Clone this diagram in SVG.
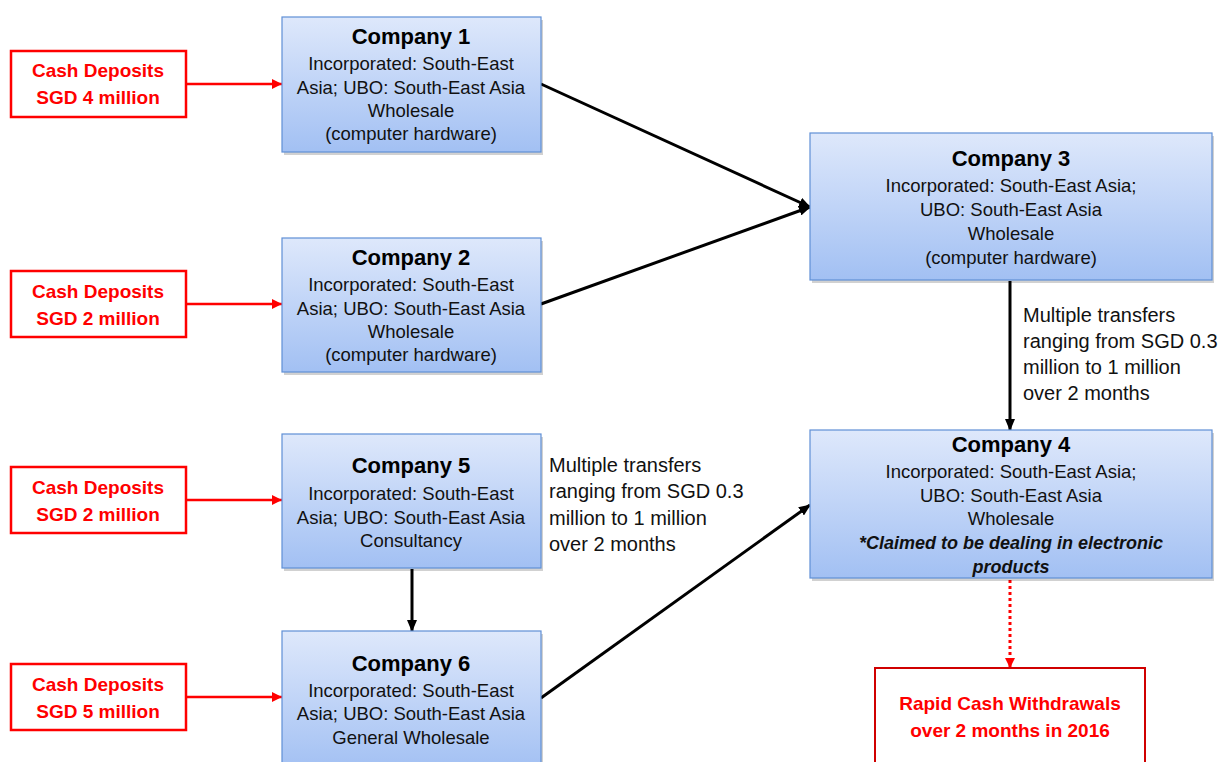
<svg xmlns="http://www.w3.org/2000/svg" width="1221" height="762" viewBox="0 0 1221 762">
<defs>
<linearGradient id="g" x1="0" y1="0" x2="0" y2="1">
<stop offset="0" stop-color="#dee8fb"/>
<stop offset="1" stop-color="#a2c0f3"/>
</linearGradient>
<marker id="ab" viewBox="0 0 12 10" refX="11" refY="5" markerWidth="12" markerHeight="10" markerUnits="userSpaceOnUse" orient="auto">
<path d="M0,0 L12,5 L0,10 z" fill="#000"/>
</marker>
<marker id="ar" viewBox="0 0 10 10" refX="10" refY="5" markerWidth="10" markerHeight="10" markerUnits="userSpaceOnUse" orient="auto">
<path d="M0,0 L10,5 L0,10 z" fill="#ff0000"/>
</marker>
</defs>
<style>
.co{fill:url(#g);stroke:#5f8fd6;stroke-width:1.2}
.sh{fill:#000;opacity:0.18}
.cash{fill:#fff;stroke:#ff0000;stroke-width:2.5}
.t{font-family:"Liberation Sans",Arial,sans-serif;font-weight:bold;font-size:22px;fill:#000;text-anchor:middle}
.b{font-family:"Liberation Sans",Arial,sans-serif;font-size:18.5px;fill:#111;text-anchor:middle}
.bi{font-family:"Liberation Sans",Arial,sans-serif;font-size:18px;font-weight:bold;font-style:italic;fill:#111;text-anchor:middle}
.r{font-family:"Liberation Sans",Arial,sans-serif;font-weight:bold;font-size:19px;fill:#ff0000;text-anchor:middle}
.l{font-family:"Liberation Sans",Arial,sans-serif;font-size:20px;fill:#111}
.k{stroke:#000;stroke-width:3;fill:none}
.kr{stroke:#ff0000;stroke-width:2.5;fill:none}
</style>

<g id="connectors">
<line class="kr" x1="186" y1="84" x2="282" y2="84" marker-end="url(#ar)"/>
<line class="kr" x1="186" y1="304" x2="282" y2="304" marker-end="url(#ar)"/>
<line class="kr" x1="186" y1="500" x2="282" y2="500" marker-end="url(#ar)"/>
<line class="kr" x1="186" y1="697" x2="282" y2="697" marker-end="url(#ar)"/>
<line class="k" x1="541" y1="84" x2="810" y2="207" marker-end="url(#ab)"/>
<line class="k" x1="541" y1="304" x2="810" y2="207" marker-end="url(#ab)"/>
<line class="k" x1="1010" y1="281" x2="1010" y2="430" marker-end="url(#ab)"/>
<line class="k" x1="412" y1="569" x2="412" y2="631" marker-end="url(#ab)"/>
<line class="k" x1="541" y1="698" x2="810" y2="505" marker-end="url(#ab)"/>
<line x1="1010" y1="580" x2="1010" y2="668" stroke="#ff0000" stroke-width="3" stroke-dasharray="3,3" marker-end="url(#ar)"/>
<text class="l" x="1023" y="322">Multiple transfers</text>
<text class="l" x="1023" y="348">ranging from SGD 0.3</text>
<text class="l" x="1023" y="374">million to 1 million</text>
<text class="l" x="1023" y="400">over 2 months</text>
<text class="l" x="549" y="472">Multiple transfers</text>
<text class="l" x="549" y="498">ranging from SGD 0.3</text>
<text class="l" x="549" y="525">million to 1 million</text>
<text class="l" x="549" y="551">over 2 months</text>
</g>

<g id="cash1">
<rect class="cash" x="11" y="51" width="175" height="66"/>
<text class="r" x="98" y="77">Cash Deposits</text>
<text class="r" x="98" y="104">SGD 4 million</text>
</g>
<g id="cash2">
<rect class="cash" x="11" y="271" width="175" height="66"/>
<text class="r" x="98" y="298">Cash Deposits</text>
<text class="r" x="98" y="325">SGD 2 million</text>
</g>
<g id="cash3">
<rect class="cash" x="11" y="467" width="175" height="66"/>
<text class="r" x="98" y="494">Cash Deposits</text>
<text class="r" x="98" y="521">SGD 2 million</text>
</g>
<g id="cash4">
<rect class="cash" x="11" y="664" width="175" height="66"/>
<text class="r" x="98" y="691">Cash Deposits</text>
<text class="r" x="98" y="718">SGD 5 million</text>
</g>

<g id="company1">
<rect class="sh" x="284" y="20" width="259" height="135"/>
<rect class="co" x="282" y="17" width="259" height="135"/>
<text class="t" x="411" y="44">Company 1</text>
<text class="b" x="411" y="70">Incorporated: South-East</text>
<text class="b" x="411" y="93.5">Asia; UBO: South-East Asia</text>
<text class="b" x="411" y="117">Wholesale</text>
<text class="b" x="411" y="140">(computer hardware)</text>
</g>
<g id="company2">
<rect class="sh" x="284" y="241" width="259" height="134"/>
<rect class="co" x="282" y="238" width="259" height="134"/>
<text class="t" x="411" y="265">Company 2</text>
<text class="b" x="411" y="291">Incorporated: South-East</text>
<text class="b" x="411" y="314.5">Asia; UBO: South-East Asia</text>
<text class="b" x="411" y="338">Wholesale</text>
<text class="b" x="411" y="361">(computer hardware)</text>
</g>
<g id="company3">
<rect class="sh" x="812" y="136" width="402" height="147"/>
<rect class="co" x="810" y="133" width="402" height="147"/>
<text class="t" x="1011" y="166">Company 3</text>
<text class="b" x="1011" y="192">Incorporated: South-East Asia;</text>
<text class="b" x="1011" y="216">UBO: South-East Asia</text>
<text class="b" x="1011" y="240">Wholesale</text>
<text class="b" x="1011" y="264">(computer hardware)</text>
</g>
<g id="company4">
<rect class="sh" x="812" y="433" width="402" height="148"/>
<rect class="co" x="810" y="430" width="402" height="148"/>
<text class="t" x="1011" y="452">Company 4</text>
<text class="b" x="1011" y="478">Incorporated: South-East Asia;</text>
<text class="b" x="1011" y="502">UBO: South-East Asia</text>
<text class="b" x="1011" y="525">Wholesale</text>
<text class="bi" x="1011" y="549">*Claimed to be dealing in electronic</text>
<text class="bi" x="1011" y="573">products</text>
</g>
<g id="company5">
<rect class="sh" x="284" y="437" width="259" height="134"/>
<rect class="co" x="282" y="434" width="259" height="134"/>
<text class="t" x="411" y="473">Company 5</text>
<text class="b" x="411" y="500">Incorporated: South-East</text>
<text class="b" x="411" y="523.5">Asia; UBO: South-East Asia</text>
<text class="b" x="411" y="547">Consultancy</text>
</g>
<g id="company6">
<rect class="sh" x="284" y="634" width="259" height="140"/>
<rect class="co" x="282" y="631" width="259" height="140"/>
<text class="t" x="411" y="671">Company 6</text>
<text class="b" x="411" y="697">Incorporated: South-East</text>
<text class="b" x="411" y="720">Asia; UBO: South-East Asia</text>
<text class="b" x="411" y="744">General Wholesale</text>
</g>
<g id="withdrawals">
<rect x="875" y="668" width="270" height="110" fill="#fff" stroke="#d00000" stroke-width="2"/>
<text class="r" x="1010" y="710">Rapid Cash Withdrawals</text>
<text class="r" x="1010" y="737">over 2 months in 2016</text>
</g>
</svg>
